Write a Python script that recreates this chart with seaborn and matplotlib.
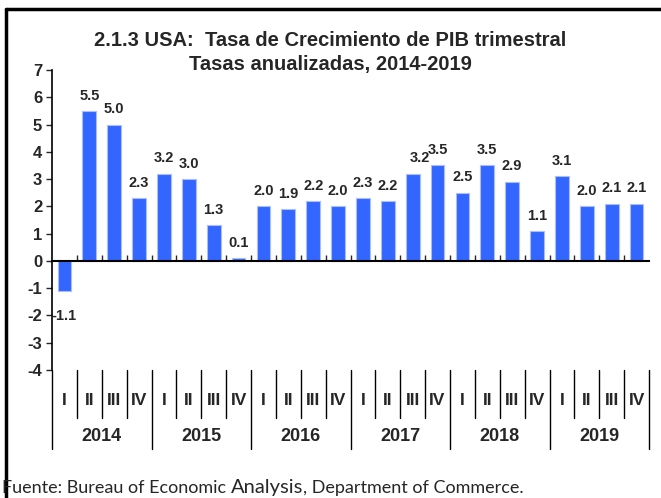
import matplotlib
matplotlib.use("Agg")
import matplotlib.pyplot as plt
import matplotlib.transforms as mtransforms
import pandas as pd
import seaborn as sns

# Tasa de crecimiento trimestral anualizada del PIB de EE.UU.
years = ["2014", "2015", "2016", "2017", "2018", "2019"]
quarters = ["I", "II", "III", "IV"]
growth = [-1.1, 5.5, 5.0, 2.3,
          3.2, 3.0, 1.3, 0.1,
          2.0, 1.9, 2.2, 2.0,
          2.3, 2.2, 3.2, 3.5,
          2.5, 3.5, 2.9, 1.1,
          3.1, 2.0, 2.1, 2.1]

periods = [f"{y}-{q}" for y in years for q in quarters]
df = pd.DataFrame({"periodo": periods, "tasa": growth})

sns.set_style("white")
plt.rcParams["font.family"] = ["Liberation Sans", "DejaVu Sans"]

fig = plt.figure(figsize=(6.61, 4.98), dpi=100)
ax = fig.add_axes([52 / 661, 1 - 370 / 498, 597 / 661, 300 / 498])

sns.barplot(data=df, x="periodo", y="tasa", order=periods, color="#3366FF",
            saturation=1, width=0.55, edgecolor="#A9BDFF", linewidth=0.8, ax=ax)

ax.set_xlim(-0.5, len(periods) - 0.5)
ax.set_ylim(-4, 7)
ax.set_yticks(range(-4, 8))
ax.set_yticklabels([str(v) for v in range(-4, 8)], fontsize=12, fontweight="bold")
ax.tick_params(axis="y", length=4, width=1, pad=3, left=True)
ax.set_xlabel("")
ax.set_ylabel("")

for s in ["top", "right"]:
    ax.spines[s].set_visible(False)
ax.spines["left"].set_linewidth(1.2)
ax.spines["left"].set_color("black")
ax.spines["bottom"].set_position(("data", 0))
ax.spines["bottom"].set_linewidth(1.5)
ax.spines["bottom"].set_color("black")
ax.set_xticks([i + 0.5 for i in range(len(periods) - 1)])
ax.set_xticklabels([])
ax.tick_params(axis="x", direction="in", length=4, width=1, bottom=True)

# etiquetas de valores
for i, v in enumerate(growth):
    dx = 5 if i == 14 else 0
    if v >= 0:
        ax.annotate(f"{v:.1f}", (i, v), xytext=(dx, 6), textcoords="offset points",
                    ha="center", va="bottom", fontsize=10.5, fontweight="bold")
    else:
        ax.annotate(f"{v:.1f}", (i, v), xytext=(dx, -13), textcoords="offset points",
                    ha="center", va="top", fontsize=10.5, fontweight="bold")

# separadores de trimestres y años bajo el gráfico
trans = mtransforms.blended_transform_factory(ax.transData, ax.transAxes)
for k in range(len(periods) + 1):
    x = k - 0.5
    low = -0.263 if k % 4 == 0 else -0.16
    ax.plot([x, x], [0, low], transform=trans, color="black", lw=1, clip_on=False)
for i, p in enumerate(periods):
    ax.text(i, -0.1, p.split("-")[1], transform=trans, ha="center", va="center",
            fontsize=12.5, fontweight="bold")
for j, y in enumerate(years):
    ax.text(j * 4 + 1.5, -0.22, y, transform=trans, ha="center", va="center",
            fontsize=13, fontweight="bold")

fig.text(0.5, 1 - 40 / 498, "2.1.3 USA:  Tasa de Crecimiento de PIB trimestral",
         ha="center", va="center", fontsize=14.5, fontweight="bold")
fig.text(0.5, 1 - 64 / 498, "Tasas anualizadas, 2014-2019",
         ha="center", va="center", fontsize=14.5, fontweight="bold")

# fuente
fig.canvas.draw()
rend = fig.canvas.get_renderer()
ybase = 1 - 493 / 498
x0 = 2 / 661
for txt, size in [("Fuente: Bureau of Economic ", 13), ("Analysis", 14.5),
                  (", Department of Commerce.", 13)]:
    t = fig.text(x0, ybase, txt, ha="left", va="baseline", fontsize=size,
                 family=["Lato", "DejaVu Sans"])
    bb = t.get_window_extent(rend)
    x0 = bb.x1 / fig.bbox.width

# marco
fig.add_artist(plt.Line2D([6 / 661, 6 / 661], [0, 1 - 9 / 498], color="black",
                          lw=2.5, transform=fig.transFigure))
fig.add_artist(plt.Line2D([6 / 661, 1], [1 - 9 / 498, 1 - 9 / 498], color="black",
                          lw=2.5, transform=fig.transFigure))

fig.savefig("out.png", dpi=100)
